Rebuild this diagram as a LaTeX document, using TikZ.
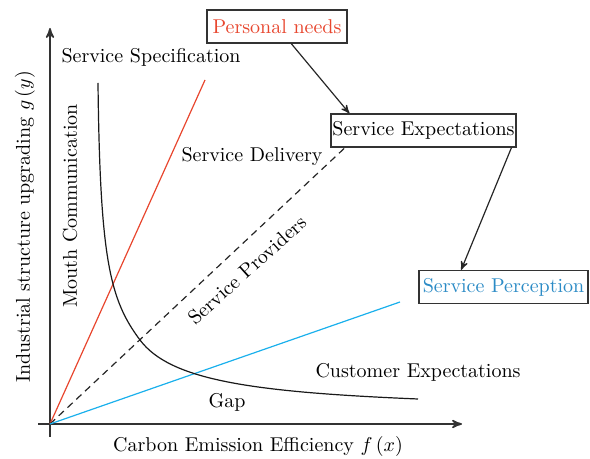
\documentclass[tikz,border=0pt]{standalone}
\usepackage{amsmath}
\usepackage{tikz}
\usetikzlibrary{arrows,positioning,calc}
\definecolor{pnred}{RGB}{232,70,46}
\definecolor{spblue}{RGB}{43,139,198}
\definecolor{lineblue}{RGB}{26,176,236}
\tikzstyle{box}=[draw=black!80,line width=0.6pt,fill=white,minimum height=16.5pt,inner sep=0pt]
\tikzstyle{lbl}=[inner sep=0pt]
\tikzstyle{axis}=[draw=black!80,line width=0.8pt,-stealth']

\begin{document}
\begin{tikzpicture}[x=0.5pt,y=-0.5pt]
	\useasboundingbox (0,0) rectangle (590,459);
      \coordinate (o) at (50,424);
			\coordinate (xs) at (38,424);
			\coordinate (xe) at (462,424);
			\coordinate (ys) at (50,437);
			\coordinate (ye) at (50,28);
			\coordinate (r) at (205,80);
			\coordinate (d) at (350,143);
			\coordinate (b) at (400,302);
			\coordinate (cs) at (98,83);
			\coordinate (cm) at (140,340);
			\coordinate (ce) at (418,399);

      \draw[axis] (xs) -- (xe);
			\draw[axis] (ys) -- (ye);
			\draw[pnred,line width=0.6pt] (o) -- (r);
			\draw[black!85,line width=0.6pt,dash pattern=on 3.5pt off 2.5pt] (o) -- (d);
			\draw[lineblue,line width=0.6pt] (o) -- (b);
			\draw[black!90,line width=0.6pt] (cs) .. controls (100,260) and (110,300) .. (cm)
				.. controls (170,380) and (250,392) .. (ce);

      \node[lbl,rotate=90] at (25,227) (ylab) {Industrial structure upgrading $g\,(y)$};
			\node[lbl] at (258,447) (xlab) {Carbon Emission Efficiency $f\,(x)$};
			\node[lbl] at (151,57) (spec) {Service Specification};
			\node[lbl,rotate=90] at (70,206) (mouth) {Mouth Communication};
			\node[lbl] at (252,157) (deliv) {Service Delivery};
			\node[lbl,rotate=42] at (247,270) (prov) {Service Providers};
			\node[lbl] at (418,372) (cust) {Customer Expectations};
			\node[lbl] at (227,402) (gap) {Gap};

      \node[box,text=pnred,minimum width=70pt] at (277,26.5) (pn) {Personal needs};
			\node[box,minimum width=92.5pt] at (423.5,130.5) (se) {Service Expectations};
			\node[box,text=spblue,minimum width=84.5pt] at (503.5,287) (sp) {Service Perception};

      \draw[-stealth',black!85,line width=0.6pt] (pn) -- (se.167);
			\draw[-stealth',black!85,line width=0.6pt] (se.-11) -- (sp.158);
  	\end{tikzpicture}
\end{document}
